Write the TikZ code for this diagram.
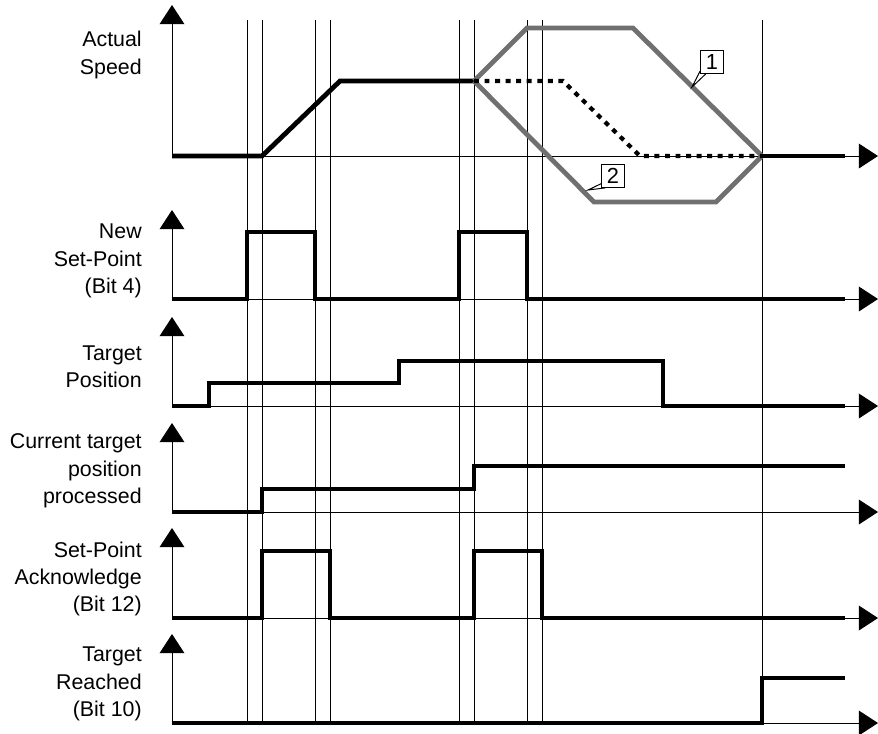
\documentclass[tikz,border=0pt]{standalone}
\usepackage{fontspec}
\setmainfont{Liberation Sans}
\usetikzlibrary{arrows.meta}
\definecolor{envgray}{RGB}{112,112,112}

\begin{document}
\begin{tikzpicture}[
			x=0.025cm, y=-0.025cm,
			axis/.style={line width=0.7pt, -{Triangle[length=0.48cm, width=0.62cm]}},
			gridl/.style={line width=0.7pt},
			sig/.style={line width=3.4pt},
			env/.style={line width=3.4pt, draw=envgray},
			dots/.style={line width=3pt, dash pattern=on 3.5pt off 4pt},
			lbl/.style={align=right, anchor=east, inner sep=0pt,
			font=\fontsize{15.2}{19.5}\selectfont},
			tag/.style={draw, fill=white, line width=0.7pt, minimum size=0.57cm,
			inner sep=0pt, font=\fontsize{15.5}{15.5}\selectfont}
		]
			\useasboundingbox (0,0) rectangle (878,733);

			% baselines of the six traces
			\def\ya{156}
			\def\yb{299}
			\def\yc{406}
			\def\yd{512}
			\def\ye{618}
			\def\yf{723}

			% time markers
			\foreach \x in {247,262,315,330,459,474,527,542,762}
				\draw[gridl] (\x,20) -- (\x,\yf);

			% axes
			\foreach \y/\t in {\ya/5, \yb/210, \yc/317, \yd/423, \ye/528, \yf/634} {
				\draw[axis] (172,\y) -- (172,\t);
				\draw[axis] (172,\y) -- (878,\y);
			}

			% labels
			\node[lbl] (lspd) at (142,55)  {Actual\\Speed};
			\node[lbl] (lnsp) at (142,261) {New\\Set-Point\\(Bit 4)};
			\node[lbl] (ltp)  at (142,367) {Target\\Position};
			\node[lbl] (lctp) at (142,471) {Current target\\position\\processed};
			\node[lbl] (lspa) at (142,579) {Set-Point\\Acknowledge\\(Bit 12)};
			\node[lbl] (ltr)  at (142,684) {Target\\Reached\\(Bit 10)};

			% actual speed
			\draw[sig] (172,\ya) -- (262,\ya) -- (340,81) -- (474,81);
			\draw[env] (474,81) -- (527,28) -- (633,28) -- (762,\ya);
			\draw[env] (474,81) -- (594,202) -- (716,202) -- (762,\ya);
			\draw[dots] (474,81) -- (563,81) -- (640,\ya) -- (762,\ya);
			\draw[sig] (762,\ya) -- (845,\ya);

			% callouts
			\node[tag] (t1) at (712,62) {1};
			\node[tag] (t2) at (613,176) {2};
			\coordinate (p1) at (692,87);
			\coordinate (p2) at (588,190);
			\draw[gridl] ([yshift=2pt]t1.south west) -- (p1) -- ([xshift=4pt]t1.south west);
			\draw[gridl] ([yshift=3pt]t2.south west) -- (p2) -- ([xshift=3pt]t2.south west);

			% new set-point
			\draw[sig] (172,\yb) -| (247,232) -| (315,\yb) -| (459,232) -| (527,\yb) -- (845,\yb);

			% target position
			\draw[sig] (172,\yc) -| (209,383) -| (399,361) -| (663,\yc) -- (845,\yc);

			% current target position processed
			\draw[sig] (172,\yd) -| (262,489) -| (474,466) -- (845,466);

			% set-point acknowledge
			\draw[sig] (172,\ye) -| (262,551) -| (330,\ye) -| (474,551) -| (542,\ye) -- (845,\ye);

			% target reached
			\draw[sig] (172,\yf) -| (762,678) -- (845,678);
		\end{tikzpicture}
\end{document}
